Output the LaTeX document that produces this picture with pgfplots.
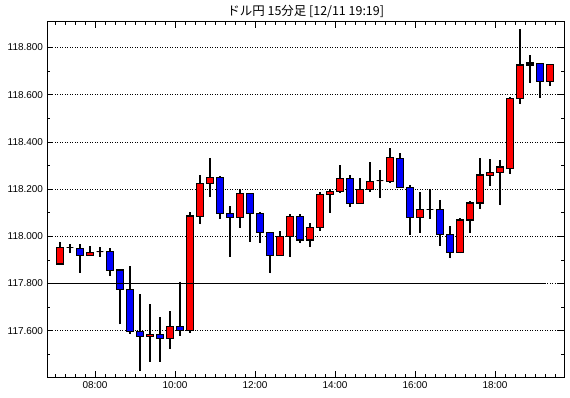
\documentclass[border=0pt]{standalone}
\usepackage{fontspec}
\setmainfont{Liberation Sans}
\newfontfamily\cjk{Noto Sans CJK JP}
\usepackage{pgfplots}
\usepgfplotslibrary{statistics}
\pgfplotsset{compat=1.18}
\definecolor{cred}{RGB}{255,0,0}
\definecolor{cblue}{RGB}{0,0,255}
% color, x, low, body low, body high, high
\newcommand{\candle}[6]{%
  \addplot[draw=black, fill=#1, line width=1.3bp, solid,
    boxplot prepared={draw position=#2, lower whisker=#3, lower quartile=#4,
      median=#4, upper quartile=#5, upper whisker=#6, box extend=0.17, whisker extend=0}]
    coordinates {};
}
\begin{document}
\begin{tikzpicture}
\begin{axis}[
  at={(0,0)}, anchor=south west,
  scale only axis, width=516.5bp, height=355bp,
  xmin=6.8125, xmax=19.725, ymin=117.404, ymax=118.908,
  boxplot/draw direction=y,
  axis line style={line width=1bp},
  xtick={8,10,12,14,16,18},
  xticklabels={08:00,10:00,12:00,14:00,16:00,18:00},
  minor xtick={7,7.25,...,19.5},
  ytick={117.6,117.8,118.0,118.2,118.4,118.6,118.8},
  yticklabels={117.600,117.800,118.000,118.200,118.400,118.600,118.800},
  minor ytick={117.5,117.7,117.9,118.1,118.3,118.5,118.7},
  tick align=inside,
  major tick length=6bp, minor tick length=3bp,
  every tick/.style={black, line width=0.8bp},
  ymajorgrids,
  major grid style={black, line width=0.8bp, dash pattern=on 1bp off 1.5bp},
  ticklabel style={font=\fontsize{10}{12}\selectfont},
  xticklabel style={yshift=-1bp},
  yticklabel style={xshift=-1bp},
  title={\cjk ドル円 15分足 [12/11 19:19]},
  title style={font=\fontsize{12.5}{14}\selectfont, yshift=-5bp},
]
\candle{cred}{7.125}{117.878}{117.883}{117.953}{117.977}
\candle{cred}{7.375}{117.928}{117.953}{117.953}{117.966}
\candle{cblue}{7.625}{117.846}{117.918}{117.949}{117.966}
\candle{cred}{7.875}{117.918}{117.918}{117.932}{117.958}
\candle{cred}{8.125}{117.914}{117.935}{117.935}{117.956}
\candle{cblue}{8.375}{117.833}{117.856}{117.935}{117.949}
\candle{cblue}{8.625}{117.627}{117.775}{117.857}{117.857}
\candle{cblue}{8.875}{117.585}{117.596}{117.775}{117.874}
\candle{cblue}{9.125}{117.431}{117.576}{117.596}{117.754}
\candle{cred}{9.375}{117.469}{117.576}{117.585}{117.713}
\candle{cblue}{9.625}{117.469}{117.568}{117.585}{117.659}
\candle{cred}{9.875}{117.521}{117.568}{117.619}{117.683}
\candle{cblue}{10.125}{117.579}{117.602}{117.619}{117.808}
\candle{cred}{10.375}{117.592}{117.602}{118.086}{118.102}
\candle{cred}{10.625}{118.051}{118.083}{118.225}{118.260}
\candle{cred}{10.875}{118.165}{118.225}{118.250}{118.332}
\candle{cblue}{11.125}{118.075}{118.097}{118.250}{118.256}
\candle{cblue}{11.375}{117.914}{118.079}{118.097}{118.128}
\candle{cred}{11.625}{118.034}{118.079}{118.182}{118.199}
\candle{cblue}{11.875}{117.977}{118.097}{118.182}{118.182}
\candle{cblue}{12.125}{117.970}{118.017}{118.097}{118.103}
\candle{cblue}{12.375}{117.843}{117.918}{118.017}{118.017}
\candle{cred}{12.625}{117.918}{117.918}{117.998}{118.022}
\candle{cred}{12.875}{117.911}{117.998}{118.083}{118.094}
\candle{cblue}{13.125}{117.970}{117.984}{118.083}{118.094}
\candle{cred}{13.375}{117.953}{117.984}{118.038}{118.055}
\candle{cred}{13.625}{118.024}{118.038}{118.178}{118.186}
\candle{cred}{13.875}{118.100}{118.178}{118.191}{118.200}
\candle{cred}{14.125}{118.182}{118.189}{118.246}{118.302}
\candle{cblue}{14.375}{118.125}{118.140}{118.246}{118.260}
\candle{cred}{14.625}{118.140}{118.140}{118.199}{118.246}
\candle{cred}{14.875}{118.189}{118.199}{118.233}{118.314}
\candle{cred}{15.125}{118.161}{118.236}{118.236}{118.281}
\candle{cred}{15.375}{118.225}{118.233}{118.335}{118.373}
\candle{cblue}{15.625}{118.208}{118.208}{118.329}{118.352}
\candle{cblue}{15.875}{118.006}{118.081}{118.208}{118.216}
\candle{cred}{16.125}{118.013}{118.081}{118.114}{118.186}
\candle{cred}{16.375}{118.075}{118.114}{118.114}{118.199}
\candle{cblue}{16.625}{117.959}{118.008}{118.114}{118.154}
\candle{cblue}{16.875}{117.907}{117.932}{118.008}{118.044}
\candle{cred}{17.125}{117.928}{117.932}{118.069}{118.076}
\candle{cred}{17.375}{118.013}{118.069}{118.141}{118.150}
\candle{cred}{17.625}{118.114}{118.141}{118.260}{118.331}
\candle{cred}{17.875}{118.214}{118.258}{118.271}{118.326}
\candle{cred}{18.125}{118.131}{118.271}{118.294}{118.322}
\candle{cred}{18.375}{118.264}{118.288}{118.585}{118.592}
\candle{cred}{18.625}{118.559}{118.585}{118.726}{118.877}
\candle{cred}{18.875}{118.648}{118.726}{118.734}{118.768}
\candle{cblue}{19.125}{118.587}{118.657}{118.733}{118.733}
\candle{cred}{19.375}{118.638}{118.657}{118.729}{118.729}
\addplot[black, line width=1.2bp, solid, no marks] coordinates {(6.8125,117.8) (19.25,117.8)};
\end{axis}
\pgfresetboundingbox
\path[use as bounding box] (-47.5bp,-21bp) rectangle (522.5bp,377bp);
\end{tikzpicture}
\end{document}
